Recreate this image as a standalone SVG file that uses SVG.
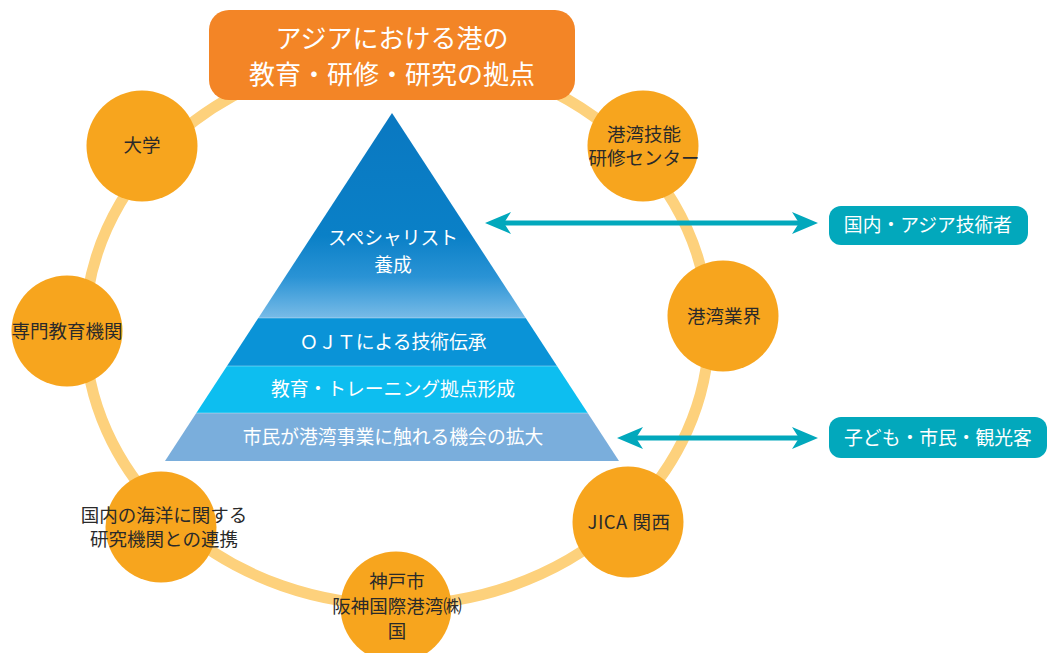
<svg xmlns="http://www.w3.org/2000/svg" width="1047" height="653" viewBox="0 0 1047 653">
  <defs>
    <style>
      text { font-family: "Noto Sans CJK JP", "Noto Sans", sans-serif; text-anchor: middle; font-weight: 400; }
      .node circle { fill: #F7A51E; }
      .node text { fill: #2A2A2A; font-size: 18.5px; }
      .pyr text { fill: #FFFFFF; font-size: 18.8px; }
      .tag rect { fill: #02A8BC; }
      .tag text { fill: #FFFFFF; font-size: 18.8px; }
      .ring { fill: none; stroke: #FDD17C; stroke-width: 11; }
      .arrow { fill: none; stroke: #02A8BC; stroke-width: 5; marker-start: url(#ah); marker-end: url(#ah); }
      .sep { stroke: #FFFFFF; stroke-opacity: 0.35; stroke-width: 1; }
    </style>
    <marker id="ah" viewBox="0 0 26 22" refX="18" refY="11" markerWidth="26" markerHeight="22" markerUnits="userSpaceOnUse" orient="auto-start-reverse">
      <path d="M0,0 L26,11 L0,22 L7,11 Z" fill="#02A8BC"/>
    </marker>
    <linearGradient id="topGrad" gradientUnits="userSpaceOnUse" x1="0" y1="113" x2="0" y2="318">
      <stop offset="0" stop-color="#0A78C1"/>
      <stop offset="0.6" stop-color="#0A80C7"/>
      <stop offset="0.8" stop-color="#2A93D5"/>
      <stop offset="1" stop-color="#78BBE7"/>
    </linearGradient>
  </defs>

  <g id="connectors">
    <ellipse class="ring" cx="397" cy="330" rx="312" ry="275"/>
  </g>

  <g id="title">
    <rect x="209" y="10" width="366" height="90" rx="20" ry="20" fill="#F38526"/>
    <text x="392" y="48" font-size="26" fill="#FFFFFF">アジアにおける港の</text>
    <text x="392" y="84" font-size="26" fill="#FFFFFF">教育・研修・研究の拠点</text>
  </g>

  <g id="pyramid" class="pyr">
    <polygon points="392,113 525.7,318 258.3,318" fill="url(#topGrad)"/>
    <polygon points="258.3,318 525.7,318 557,366 227,366" fill="#0A93D7"/>
    <polygon points="227,366 557,366 587.7,413 196.3,413" fill="#0DBEF0"/>
    <polygon points="196.3,413 587.7,413 619,461 165,461" fill="#7AAEDC"/>
    <line class="sep" x1="258.3" y1="318" x2="525.7" y2="318"/>
    <line class="sep" x1="227" y1="366" x2="557" y2="366"/>
    <line class="sep" x1="196.3" y1="413" x2="587.7" y2="413"/>
    <text x="393" y="245" font-size="18.5">スペシャリスト</text>
    <text x="393" y="272" font-size="18.5">養成</text>
    <text x="393" y="349">ＯＪＴによる技術伝承</text>
    <text x="393" y="396">教育・トレーニング拠点形成</text>
    <text x="393" y="444">市民が港湾事業に触れる機会の拡大</text>
  </g>

  <g id="node-daigaku" class="node">
    <circle cx="142" cy="146" r="55.5"/>
    <text x="142" y="152">大学</text>
  </g>
  <g id="node-senmon" class="node">
    <circle cx="67" cy="331" r="55.5"/>
    <text x="67" y="338">専門教育機関</text>
  </g>
  <g id="node-kowan-gino" class="node">
    <circle cx="643" cy="146" r="55.5"/>
    <text x="644" y="141">港湾技能</text>
    <text x="644" y="165">研修センター</text>
  </g>
  <g id="node-kowan-gyokai" class="node">
    <circle cx="723" cy="316" r="55.5"/>
    <text x="724" y="323">港湾業界</text>
  </g>
  <g id="node-jica" class="node">
    <circle cx="628" cy="522" r="55.5"/>
    <text x="629" y="529" letter-spacing="0.5">JICA 関西</text>
  </g>
  <g id="node-kobe" class="node">
    <circle cx="396" cy="607" r="55.5"/>
    <text x="397" y="588">神戸市</text>
    <text x="397" y="613">阪神国際港湾㈱</text>
    <text x="397" y="638">国</text>
  </g>
  <g id="node-kaiyo" class="node">
    <circle cx="161" cy="527" r="55.5"/>
    <text x="164" y="522">国内の海洋に関する</text>
    <text x="164" y="546">研究機関との連携</text>
  </g>

  <g id="arrows">
    <line class="arrow" x1="493" y1="223" x2="810" y2="223"/>
    <line class="arrow" x1="625" y1="438" x2="810" y2="438"/>
  </g>

  <g id="tag-asia" class="tag">
    <rect x="829" y="206" width="199" height="39" rx="12" ry="12"/>
    <text x="928" y="232">国内・アジア技術者</text>
  </g>
  <g id="tag-citizens" class="tag">
    <rect x="829" y="417" width="218" height="41" rx="12" ry="12"/>
    <text x="938" y="445">子ども・市民・観光客</text>
  </g>
</svg>
